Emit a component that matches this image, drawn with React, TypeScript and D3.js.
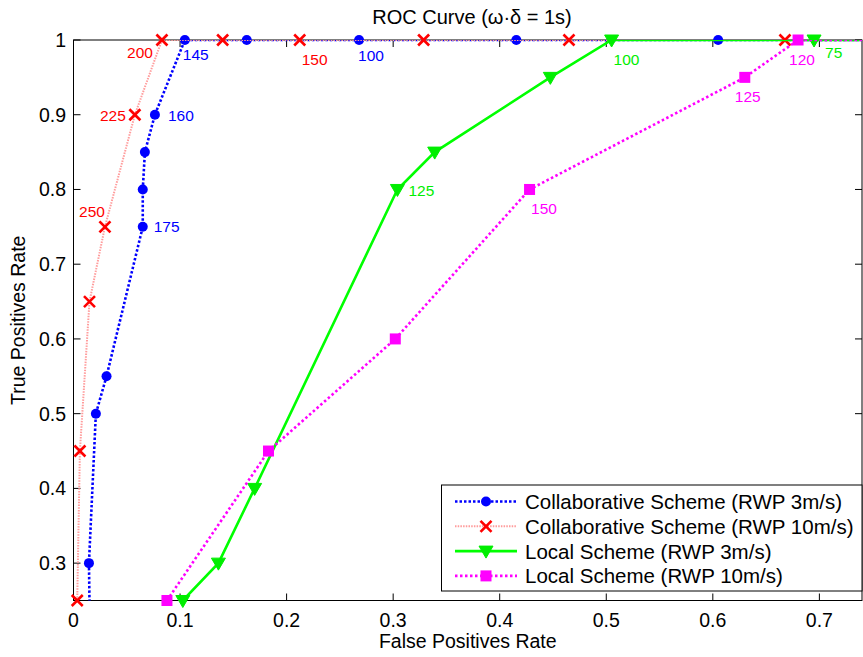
import React from 'react';
import * as d3 from 'd3';

// ROC curve data
const xTicks = [0, 0.1, 0.2, 0.3, 0.4, 0.5, 0.6, 0.7];
const yTicks = [0.3, 0.4, 0.5, 0.6, 0.7, 0.8, 0.9, 1];

const collab3Fpr = [0.0155, 0.0145, 0.021, 0.031, 0.065, 0.065, 0.067, 0.0764, 0.1045, 0.1626, 0.268, 0.4156, 0.605, 0.8];
const collab3Tpr = [0.2, 0.3, 0.5, 0.55, 0.75, 0.8, 0.85, 0.9, 1, 1, 1, 1, 1, 1];
const collab3Labels = ['', '', '', '', '175', '', '', '160', '145', '', '100', '', '', ''];

const collab10Fpr = [0.0035, 0.006, 0.015, 0.0295, 0.0576, 0.083, 0.14, 0.2123, 0.3286, 0.465, 0.6677, 0.8];
const collab10Tpr = [0.25, 0.45, 0.65, 0.75, 0.9, 1, 1, 1, 1, 1, 1, 1];
const collab10Labels = ['', '', '', '250', '225', '200', '', '150', '', '', '', ''];

const local3Fpr = [0.1026, 0.136, 0.17, 0.304, 0.339, 0.4475, 0.505, 0.695, 0.8];
const local3Tpr = [0.25, 0.3, 0.4, 0.8, 0.85, 0.95, 1, 1, 1];
const local3Labels = ['', '', '', '125', '', '', '100', '75', ''];

const local10Fpr = [0.0877, 0.183, 0.302, 0.428, 0.63, 0.68, 0.8];
const local10Tpr = [0.25, 0.45, 0.6, 0.8, 0.95, 1, 1];
const local10Labels = ['', '', '', '150', '125', '120', ''];

const seriesNames = [
  'Collaborative Scheme (RWP 3m/s)',
  'Collaborative Scheme (RWP 10m/s)',
  'Local Scheme (RWP 3m/s)',
  'Local Scheme (RWP 10m/s)',
];

// label placement: [dx, dy, anchor] keyed by label text per series
const labelPos: Record<string, [number, number, string]>[] = [
  { '145': [-2, 20, 'start'], '100': [-1, 21, 'start'], '160': [13, 6, 'start'], '175': [11, 5.5, 'start'] },
  { '200': [-9, 17.5, 'end'], '150': [2, 24.5, 'start'], '225': [-9, 6, 'end'], '250': [0, -9.5, 'end'] },
  { '125': [11, 6.5, 'start'], '100': [2, 24.5, 'start'], '75': [11, 17.5, 'start'] },
  { '150': [1.5, 24.5, 'start'], '125': [-10, 25, 'start'], '120': [-9, 24.5, 'start'] },
];

const W = 863;
const H = 657;
const left = 73.5;
const right = 862;
const top = 40;
const bottom = 600.5;
const font = 'Liberation Sans, Arial, Helvetica, sans-serif';

const x = d3.scaleLinear().domain([0, 0.74]).range([left, right]);
const y = d3.scaleLinear().domain([0.25, 1]).range([bottom, top]);

const styles = [
  { color: '#0000ff', line: '#0000ff', width: 2.6, dash: '2.5,2', marker: 'circle' },
  { color: '#ff0000', line: '#ff9c9c', width: 2, dash: '1.5,1.2', marker: 'x' },
  { color: '#00ee00', line: '#00ff00', width: 2.6, dash: '', marker: 'tri' },
  { color: '#ff00ff', line: '#ff00ff', width: 2.6, dash: '2.5,2.5', marker: 'square' },
];

const series = [
  { fpr: collab3Fpr, tpr: collab3Tpr, labels: collab3Labels },
  { fpr: collab10Fpr, tpr: collab10Tpr, labels: collab10Labels },
  { fpr: local3Fpr, tpr: local3Tpr, labels: local3Labels },
  { fpr: local10Fpr, tpr: local10Tpr, labels: local10Labels },
];

function Marker({ kind, cx, cy, color }: { kind: string; cx: number; cy: number; color: string }) {
  if (kind === 'circle') return <circle cx={cx} cy={cy} r={5} fill={color} />;
  if (kind === 'x') {
    const s = 5.5;
    return (
      <g stroke={color} strokeWidth={2.6}>
        <line x1={cx - s} y1={cy - s} x2={cx + s} y2={cy + s} />
        <line x1={cx - s} y1={cy + s} x2={cx + s} y2={cy - s} />
      </g>
    );
  }
  if (kind === 'tri') {
    return <path d={`M${cx - 7},${cy - 5} L${cx + 7},${cy - 5} L${cx},${cy + 7} Z`} fill={color} stroke={color} strokeWidth={1} />;
  }
  return <rect x={cx - 5.5} y={cy - 5.5} width={11} height={11} fill={color} />;
}

export default function App() {
  const line = d3.line<[number, number]>().x(d => x(d[0])).y(d => y(d[1]));
  const inside = (fx: number, ty: number) => fx >= 0 && fx <= 0.74 && ty >= 0.25 && ty <= 1;

  return (
    <svg width={W} height={H} style={{ position: 'absolute', left: 0, top: 0, background: '#fff' }} fontFamily={font}>
      <defs>
        <clipPath id="plot">
          <rect x={left} y={top} width={right - left} height={bottom - top} />
        </clipPath>
      </defs>
      <rect width={W} height={H} fill="#fff" />
      {/* axes box & ticks */}
      <rect x={left} y={top} width={right - left} height={bottom - top} fill="none" stroke="#000" strokeWidth={1} />
      {xTicks.map(t => (
        <g key={'x' + t}>
          <line x1={x(t)} x2={x(t)} y1={bottom} y2={bottom - 7} stroke="#000" />
          <line x1={x(t)} x2={x(t)} y1={top} y2={top + 7} stroke="#000" />
          <text x={x(t)} y={627} fontSize={19.5} textAnchor="middle">{t}</text>
        </g>
      ))}
      {yTicks.map(t => (
        <g key={'y' + t}>
          <line x1={left} x2={left + 7} y1={y(t)} y2={y(t)} stroke="#000" />
          <line x1={right} x2={right - 7} y1={y(t)} y2={y(t)} stroke="#000" />
          <text x={66} y={y(t) + 7} fontSize={19.5} textAnchor="end">{t}</text>
        </g>
      ))}
      <text x={472} y={23.5} fontSize={20} textAnchor="middle">ROC Curve (ω·δ = 1s)</text>
      <text x={(left + right) / 2} y={648} fontSize={19.5} textAnchor="middle">False Positives Rate</text>
      <text transform={`translate(25,${(top + bottom) / 2}) rotate(-90)`} fontSize={19.5} textAnchor="middle">True Positives Rate</text>

      {series.map((s, i) => {
        const st = styles[i];
        const pts = s.fpr.map((f, j) => [f, s.tpr[j]] as [number, number]);
        return (
          <g key={'s' + i}>
            <path d={line(pts) || ''} fill="none" stroke={st.line} strokeWidth={st.width} strokeDasharray={st.dash || undefined} clipPath="url(#plot)" />
            {pts.filter(p => inside(p[0], p[1])).map((p, j) => (
              <Marker key={j} kind={st.marker} cx={x(p[0])} cy={y(p[1])} color={st.color} />
            ))}
            {s.labels.map((lab, j) => {
              if (!lab) return null;
              const pos = labelPos[i][lab];
              return (
                <text key={'l' + j} x={x(s.fpr[j]) + pos[0]} y={y(s.tpr[j]) + pos[1]} fontSize={15.5} fill={st.color} textAnchor={pos[2]}>
                  {lab}
                </text>
              );
            })}
          </g>
        );
      })}

      {/* legend */}
      <g>
        <rect x={441.5} y={485} width={420.5} height={106} fill="#fff" stroke="#000" strokeWidth={1} />
        {seriesNames.map((name, i) => {
          const st = styles[i];
          const ly = 501.5 + i * 24.8;
          return (
            <g key={'lg' + i}>
              <line x1={455} x2={517} y1={ly} y2={ly} stroke={st.line} strokeWidth={st.width} strokeDasharray={st.dash || undefined} />
              <Marker kind={st.marker} cx={486} cy={ly} color={st.color} />
              <text x={525} y={ly + 7.5} fontSize={20.5}>{name}</text>
            </g>
          );
        })}
      </g>
    </svg>
  );
}
